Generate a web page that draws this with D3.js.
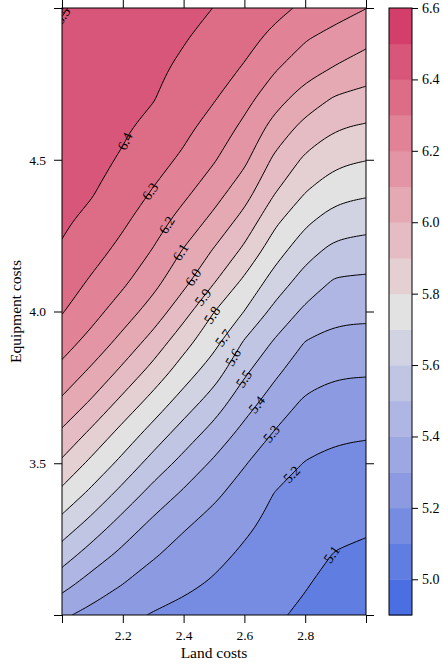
<!DOCTYPE html>
<html>
<head>
<meta charset="utf-8">
<script src="https://cdn.jsdelivr.net/npm/d3@7"></script>
<style>
	body { margin: 0; background: #fff; }
	svg text { font-family: "Liberation Serif", "Times New Roman", serif; fill: #000; }
</style>
</head>
<body>
<script>
// grid of the surface: land costs across, equipment costs up
let landCosts = [2.0, 2.1, 2.2, 2.3, 2.4, 2.5, 2.6, 2.7, 2.8, 2.9, 3.0];
let equipmentCosts = [3.0, 3.1, 3.2, 3.3, 3.4, 3.5, 3.6, 3.7, 3.8, 3.9, 4.0,
	4.1, 4.2, 4.3, 4.4, 4.5, 4.6, 4.7, 4.8, 4.9, 5.0];

// one column per land cost, values from equipment cost 3.0 up to 5.0
let costColumns = [
	[5.315, 5.433, 5.551, 5.665, 5.774, 5.882, 5.984, 6.081, 6.169, 6.243, 6.306, 6.350, 6.393, 6.411, 6.424, 6.438, 6.451, 6.464, 6.477, 6.490, 6.504],
	[5.270, 5.354, 5.454, 5.565, 5.674, 5.773, 5.877, 5.984, 6.077, 6.165, 6.233, 6.287, 6.335, 6.381, 6.407, 6.420, 6.433, 6.445, 6.458, 6.470, 6.483],
	[5.228, 5.299, 5.376, 5.462, 5.566, 5.671, 5.765, 5.870, 5.975, 6.068, 6.150, 6.219, 6.272, 6.317, 6.355, 6.392, 6.410, 6.423, 6.436, 6.449, 6.462],
	[5.193, 5.252, 5.311, 5.379, 5.463, 5.560, 5.662, 5.760, 5.862, 5.962, 6.057, 6.133, 6.194, 6.245, 6.296, 6.335, 6.373, 6.404, 6.416, 6.429, 6.441],
	[5.172, 5.219, 5.264, 5.313, 5.386, 5.468, 5.555, 5.655, 5.748, 5.836, 5.937, 6.028, 6.093, 6.163, 6.227, 6.284, 6.322, 6.353, 6.384, 6.406, 6.420],
	[5.152, 5.188, 5.227, 5.269, 5.317, 5.384, 5.464, 5.551, 5.645, 5.730, 5.802, 5.908, 5.991, 6.074, 6.145, 6.208, 6.258, 6.306, 6.337, 6.369, 6.399],
	[5.131, 5.158, 5.185, 5.219, 5.262, 5.306, 5.371, 5.441, 5.515, 5.591, 5.698, 5.781, 5.879, 5.965, 6.048, 6.120, 6.174, 6.231, 6.292, 6.328, 6.361],
	[5.111, 5.133, 5.154, 5.176, 5.197, 5.244, 5.294, 5.354, 5.418, 5.490, 5.571, 5.659, 5.742, 5.822, 5.910, 5.980, 6.059, 6.137, 6.209, 6.277, 6.324],
	[5.085, 5.105, 5.128, 5.150, 5.173, 5.196, 5.238, 5.285, 5.340, 5.398, 5.480, 5.558, 5.637, 5.721, 5.807, 5.883, 5.961, 6.055, 6.139, 6.208, 6.284],
	[5.052, 5.074, 5.096, 5.124, 5.152, 5.180, 5.213, 5.261, 5.311, 5.368, 5.427, 5.489, 5.569, 5.654, 5.739, 5.821, 5.900, 5.987, 6.091, 6.164, 6.242],
	[5.020, 5.051, 5.083, 5.114, 5.144, 5.175, 5.208, 5.258, 5.308, 5.365, 5.423, 5.483, 5.557, 5.638, 5.721, 5.803, 5.883, 5.965, 6.048, 6.128, 6.202]
];

let levels = [4.9, 5.0, 5.1, 5.2, 5.3, 5.4, 5.5, 5.6, 5.7, 5.8, 5.9, 6.0, 6.1, 6.2, 6.3, 6.4, 6.5, 6.6];

let xTicks = [2.0, 2.2, 2.4, 2.6, 2.8, 3.0];
let xTickLabels = ["", "2.2", "2.4", "2.6", "2.8", ""];
let yTicks = [3.0, 3.5, 4.0, 4.5, 5.0];
let yTickLabels = ["", "3.5", "4.0", "4.5", ""];
let keyTicks = [5.0, 5.2, 5.4, 5.6, 5.8, 6.0, 6.2, 6.4, 6.6];

// lattice default region colours
let paletteStops = ["#4A6FE3", "#8595E1", "#B5BBE3", "#E2E2E2", "#E6AFB9", "#E07B91", "#D33F6A"];
let ramp = d3.piecewise(d3.interpolateRgb, paletteStops);
function bandColor(i) { return ramp(i / (levels.length - 2)); }

let margin = {top: 8, right: 77, bottom: 51, left: 62};
let width = 443 - margin.left - margin.right;
let height = 666 - margin.top - margin.bottom;

let svg = d3.select("body").append("svg")
	.attr("width", 443)
	.attr("height", 666);

let xScale = d3.scaleLinear().domain(d3.extent(landCosts)).range([margin.left, margin.left + width]);
let yScale = d3.scaleLinear().domain(d3.extent(equipmentCosts)).range([margin.top + height, margin.top]);

// d3.contours puts grid value i at i + 0.5
let nx = landCosts.length, ny = equipmentCosts.length;
let gridX = d3.scaleLinear().domain([0.5, nx - 0.5]).range(d3.extent(landCosts));
let gridY = d3.scaleLinear().domain([0.5, ny - 0.5]).range(d3.extent(equipmentCosts));

let values = [];
for (let r = 0; r < ny; r++) {
	for (let c = 0; c < nx; c++) values.push(costColumns[c][r]);
}

let contours = d3.contours().size([nx, ny]).thresholds(levels)(values);

function onOrOutside(q) {
	let e = 0.01;
	return q[0] <= margin.left + e || q[0] >= margin.left + width - e ||
		q[1] <= margin.top + e || q[1] >= margin.top + height - e;
}

// rings in pixel space
function pixelRings(contour) {
	let rings = [];
	contour.coordinates.forEach(function(poly) {
		poly.forEach(function(ring) {
			let pts = [];
			ring.slice(0, -1).forEach(function(p) {
				let q = [xScale(gridX(p[0])), yScale(gridY(p[1]))];
				let last = pts[pts.length - 1];
				if (!last || Math.abs(last[0] - q[0]) + Math.abs(last[1] - q[1]) > 0.05) pts.push(q);
			});
			rings.push(pts);
		});
	});
	return rings;
}

// smooth the marching-squares polylines; points on the panel edge
// are repeated so the spline goes through them
let smoothRing = d3.line().curve(d3.curveBasisClosed);
function ringsPath(rings) {
	return rings.map(function(pts) {
		let held = [];
		pts.forEach(function(q) {
			if (onOrOutside(q)) held.push(q, q, q);
			else held.push(q);
		});
		return smoothRing(held);
	}).join("");
}

svg.append("clipPath").attr("id", "panel")
	.append("rect")
		.attr("x", margin.left).attr("y", margin.top)
		.attr("width", width).attr("height", height);

let panel = svg.append("g").attr("clip-path", "url(#panel)");

let contourData = contours.map(function(c, i) {
	let rings = pixelRings(c);
	return {value: c.value, index: i, rings: rings, d: ringsPath(rings)};
});

// filled bands, lowest first
panel.selectAll("path.band")
		.data(contourData)
	.enter().append("path")
		.attr("class", "band")
		.attr("d", function(d) { return d.d; })
		.attr("fill", function(d) { return bandColor(Math.min(d.index, levels.length - 2)); })
		.attr("stroke", "none");

// contour lines
panel.selectAll("path.line")
		.data(contourData)
	.enter().append("path")
		.attr("class", "line")
		.attr("d", function(d) { return d.d; })
		.attr("fill", "none")
		.attr("stroke", "#000")
		.attr("stroke-width", 1);

// labels sit where the lines cross a diagonal guide
let guideA = [125, 141], guideB = [331, 553];
function labelSpot(rings) {
	let spot = null;
	let gx = guideB[0] - guideA[0], gy = guideB[1] - guideA[1];
	rings.forEach(function(pts) {
		for (let k = 0; k < pts.length; k++) {
			let p = pts[k], q = pts[(k + 1) % pts.length];
			let dx = q[0] - p[0], dy = q[1] - p[1];
			let den = dx * gy - dy * gx;
			if (Math.abs(den) < 1e-9) continue;
			let t = ((guideA[0] - p[0]) * gy - (guideA[1] - p[1]) * gx) / den;
			if (t < 0 || t > 1) continue;
			let ix = p[0] + t * dx, iy = p[1] + t * dy;
			if (ix < margin.left - 4 || ix > margin.left + width + 4 ||
				iy < margin.top - 4 || iy > margin.top + height + 4) continue;
			let ang = Math.atan2(dy, dx) * 180 / Math.PI;
			if (ang > 90) ang -= 180;
			if (ang <= -90) ang += 180;
			spot = {x: ix, y: iy, angle: ang};
		}
	});
	return spot;
}

let labelData = contourData.map(function(d) {
	let s = labelSpot(d.rings);
	return s ? {value: d.value, x: s.x, y: s.y, angle: s.angle} : null;
}).filter(function(d) { return d; });

panel.selectAll("text.clabel")
		.data(labelData)
	.enter().append("text")
		.attr("class", "clabel")
		.attr("transform", function(d) { return "translate(" + d.x + "," + d.y + ") rotate(" + d.angle + ")"; })
		.attr("text-anchor", "middle")
		.attr("dy", "0.33em")
		.style("font-size", "14px")
		.text(function(d) { return d3.format(".1f")(d.value); });

// panel border
svg.append("rect")
	.attr("x", margin.left).attr("y", margin.top)
	.attr("width", width).attr("height", height)
	.attr("fill", "none").attr("stroke", "#000").attr("stroke-width", 1);

function styleAxis(g) {
	g.select(".domain").remove();
	g.selectAll("line").attr("stroke", "#000");
	g.selectAll("text").style("font-size", "13.5px").attr("fill", "#000");
}

svg.append("g")
	.attr("transform", "translate(0," + (margin.top + height) + ")")
	.call(d3.axisBottom(xScale).tickValues(xTicks)
		.tickFormat(function(d, i) { return xTickLabels[i]; })
		.tickSize(8).tickPadding(7))
	.call(styleAxis);

svg.append("g")
	.attr("transform", "translate(0," + margin.top + ")")
	.call(d3.axisTop(xScale).tickValues(xTicks).tickFormat("").tickSize(8))
	.call(styleAxis);

svg.append("g")
	.attr("transform", "translate(" + margin.left + ",0)")
	.call(d3.axisLeft(yScale).tickValues(yTicks)
		.tickFormat(function(d, i) { return yTickLabels[i]; })
		.tickSize(8).tickPadding(8))
	.call(styleAxis);

svg.append("g")
	.attr("transform", "translate(" + (margin.left + width) + ",0)")
	.call(d3.axisRight(yScale).tickValues(yTicks).tickFormat("").tickSize(8))
	.call(styleAxis);

// axis titles
svg.append("text")
	.attr("x", margin.left + width / 2)
	.attr("y", 658)
	.attr("text-anchor", "middle")
	.style("font-size", "15.5px")
	.text("Land costs");

svg.append("text")
	.attr("transform", "translate(21," + (margin.top + height / 2) + ") rotate(-90)")
	.attr("text-anchor", "middle")
	.style("font-size", "15.5px")
	.text("Equipment costs");

// colour key
let keyX = 389, keyW = 23;
let keyScale = d3.scaleLinear().domain(d3.extent(levels)).range([margin.top + height, margin.top]);

svg.append("g").selectAll("rect")
		.data(d3.range(levels.length - 1))
	.enter().append("rect")
		.attr("x", keyX)
		.attr("width", keyW)
		.attr("y", function(i) { return keyScale(levels[i + 1]); })
		.attr("height", function(i) { return keyScale(levels[i]) - keyScale(levels[i + 1]) + 0.5; })
		.attr("fill", function(i) { return bandColor(i); });

svg.append("rect")
	.attr("x", keyX).attr("y", margin.top)
	.attr("width", keyW).attr("height", height)
	.attr("fill", "none").attr("stroke", "#000").attr("stroke-width", 1);

svg.append("g")
	.attr("transform", "translate(" + (keyX + keyW) + ",0)")
	.call(d3.axisRight(keyScale).tickValues(keyTicks)
		.tickFormat(d3.format(".1f")).tickSize(6).tickPadding(4))
	.call(styleAxis)
	.call(function(g) { g.selectAll("text").style("font-size", "14px"); });
</script>
</body>
</html>
